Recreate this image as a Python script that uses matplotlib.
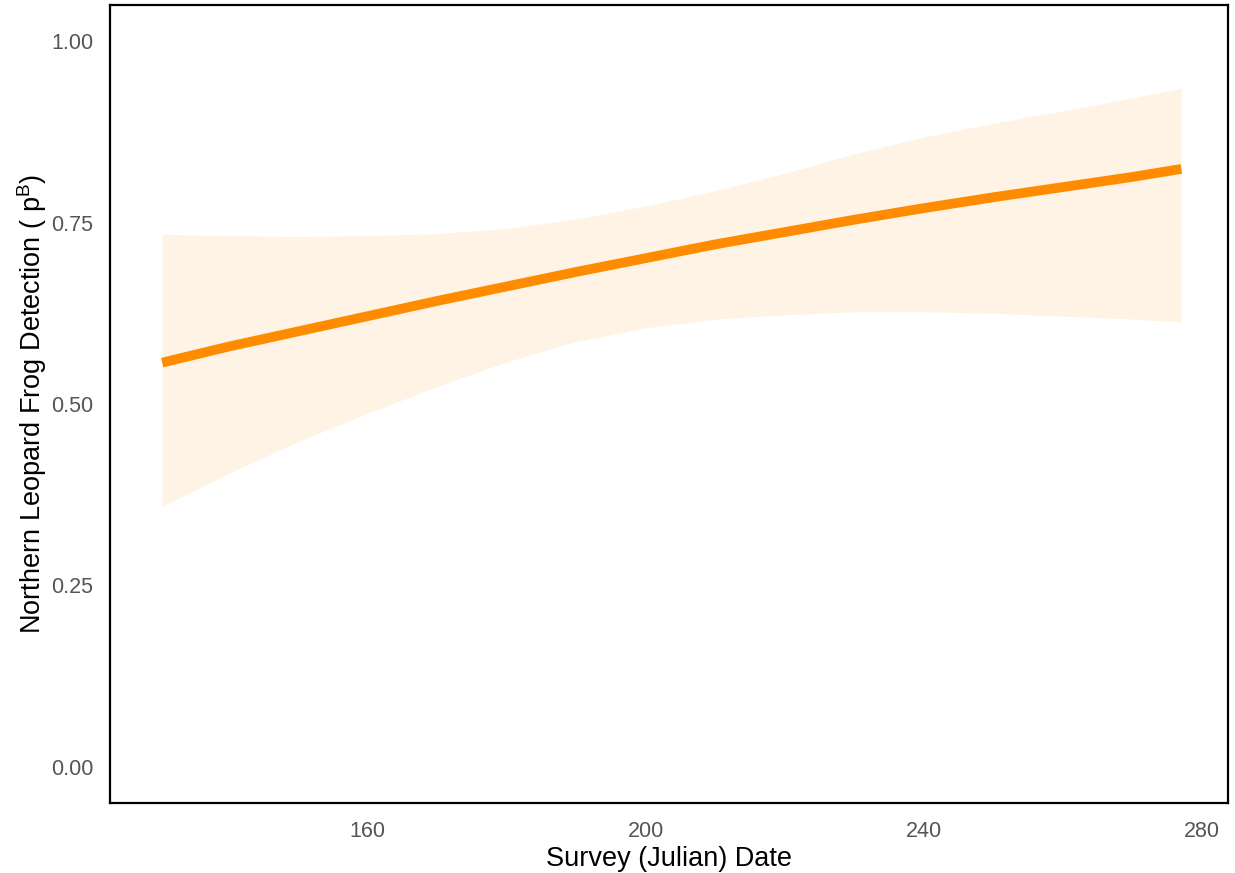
import numpy as np
import matplotlib
matplotlib.use("Agg")
import matplotlib.pyplot as plt

plt.rcParams['font.family'] = ['Liberation Sans', 'DejaVu Sans']
plt.rcParams['mathtext.fontset'] = 'custom'
plt.rcParams['mathtext.rm'] = 'Liberation Sans'

# Survey date (Julian) and predicted detection probability with 95% CI
julian_date = [130.5, 140, 150, 160, 170, 180, 190, 200, 210, 220, 230, 240, 250, 260, 270, 277]
p_detect = [0.557, 0.579, 0.600, 0.621, 0.642, 0.662, 0.682, 0.701, 0.720, 0.737,
            0.754, 0.770, 0.785, 0.799, 0.813, 0.824]
ci_upper = [0.734, 0.732, 0.731, 0.732, 0.735, 0.742, 0.755, 0.773, 0.794, 0.818,
            0.845, 0.868, 0.887, 0.904, 0.922, 0.935]
ci_lower = [0.359, 0.404, 0.448, 0.487, 0.524, 0.558, 0.586, 0.605, 0.617, 0.623,
            0.627, 0.627, 0.625, 0.621, 0.617, 0.613]

x_ticks = [160, 200, 240, 280]
y_ticks = [0.00, 0.25, 0.50, 0.75, 1.00]

fig = plt.figure(figsize=(12.35, 8.73), dpi=100)
ax = fig.add_axes([0.0891, 0.0802, 0.9052, 0.9141])

ax.fill_between(julian_date, ci_lower, ci_upper, color='#FF8C00', alpha=0.1, linewidth=0)
ax.plot(julian_date, p_detect, color='#FF8C00', linewidth=7, solid_capstyle='butt')

ax.set_xlim(123, 283.7)
ax.set_ylim(-0.05, 1.05)

ax.set_xticks(x_ticks)
ax.set_xticklabels([str(t) for t in x_ticks])
ax.set_yticks(y_ticks)
ax.set_yticklabels([f"{t:.2f}" for t in y_ticks])
ax.tick_params(length=0, labelsize=15.5, labelcolor='#555555')
ax.tick_params(axis='x', pad=13)
ax.tick_params(axis='y', pad=12)

for s in ax.spines.values():
    s.set_linewidth(1.6)
    s.set_color('black')

ax.set_xlabel("Survey (Julian) Date", fontsize=19.5, color='black')
ax.set_ylabel(r"Northern Leopard Frog Detection ( $\mathregular{p^B}$)", fontsize=19.5,
              color='black')
ax.xaxis.set_label_coords(0.5, -0.054)
ax.yaxis.set_label_coords(-0.055, 0.5)

fig.savefig("out.png", dpi=100)
